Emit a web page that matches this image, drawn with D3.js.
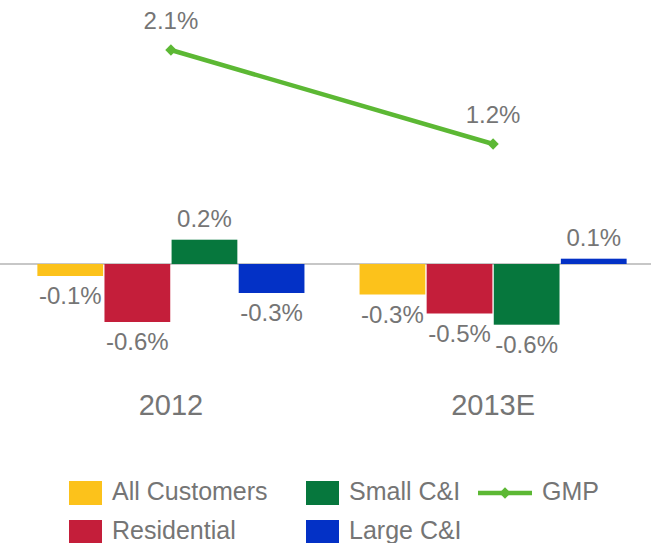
<!DOCTYPE html>
<html>
<head>
<meta charset="utf-8">
<script src="https://cdn.jsdelivr.net/npm/d3@7"></script>
<style>
  body { margin: 0; background: #fff; }
  text { font-family: "Liberation Sans", Arial, sans-serif; fill: #757575; }
</style>
</head>
<body>
<svg id="chart" width="651" height="543"></svg>
<script>
// values (percent)
let years = ["2012", "2013E"]
let seriesNames = ["All Customers", "Residential", "Small C&I", "Large C&I"]
let allCustomers = [-0.12, -0.305]
let residential = [-0.58, -0.495]
let smallCI = [0.243, -0.607]
let largeCI = [-0.29, 0.053]
let gmp = [2.14, 1.2]
let barColors = ["#fcc21b", "#c41e3a", "#06773d", "#0331c6"]
let lineColor = "#5cb834"

let width = 651, height = 543
let svg = d3.select("#chart")

let seriesValues = [allCustomers, residential, smallCI, largeCI]
let rows = years.map(function (yr, i) {
  return seriesNames.map(function (s, j) { return { year: yr, series: s, value: seriesValues[j][i] } })
})

// plain hyphen minus, like the original
let fmt = function (v) { return (+v).toFixed(1) + "%" }

let x0 = d3.scaleBand()
  .domain(years)
  .range([0, 664])
  .paddingInner(0.171)
  .paddingOuter(0.116)

let x1 = d3.scaleBand()
  .domain(seriesNames)
  .range([0, x0.bandwidth()])
  .paddingInner(0.02)

let y = d3.scaleLinear()
  .domain([-0.7, 2.3])
  .range([334, 34])

let color = d3.scaleOrdinal().domain(seriesNames).range(barColors)

// zero line
svg.append("line")
  .attr("x1", 0)
  .attr("x2", width)
  .attr("y1", y(0))
  .attr("y2", y(0))
  .style("stroke", "#b5b5b5")
  .style("stroke-width", 1.5)

// bars
let groups = svg.append("g")
  .selectAll("g")
  .data(rows)
  .enter()
  .append("g")
    .attr("transform", function (d) { return `translate(${x0(d[0].year)},0)` })

groups.selectAll("rect")
  .data(function (d) { return d })
  .enter()
  .append("rect")
    .attr("x", function (d) { return x1(d.series) })
    .attr("width", x1.bandwidth())
    .attr("y", function (d) { return y(Math.max(0, d.value)) })
    .attr("height", function (d) { return Math.abs(y(d.value) - y(0)) })
    .style("fill", function (d) { return color(d.series) })

groups.selectAll("text")
  .data(function (d) { return d })
  .enter()
  .append("text")
    .attr("text-anchor", "middle")
    .attr("x", function (d) { return x1(d.series) + x1.bandwidth() / 2 })
    .attr("y", function (d) { return d.value >= 0 ? y(d.value) - 13 : y(d.value) + 28 })
    .style("font-size", "24px")
    .text(function (d) { return fmt(d.value) })

// GMP line
let cx = function (i) { return x0(years[i]) + x0.bandwidth() / 2 }
let line = d3.line()
  .x(function (d, i) { return cx(i) })
  .y(function (d) { return y(d) })

svg.append("path")
  .datum(gmp)
  .attr("d", line)
  .style("fill", "none")
  .style("stroke", lineColor)
  .style("stroke-width", 4.5)

let diamond = d3.symbol().type(d3.symbolSquare).size(64)

svg.append("g")
  .selectAll("path")
  .data(gmp)
  .enter()
  .append("path")
    .attr("d", diamond)
    .attr("transform", function (d, i) { return `translate(${cx(i)},${y(d)}) rotate(45)` })
    .style("fill", lineColor)

svg.append("g")
  .selectAll("text")
  .data(gmp)
  .enter()
  .append("text")
    .attr("text-anchor", "middle")
    .attr("x", function (d, i) { return cx(i) })
    .attr("y", function (d) { return y(d) - 21 })
    .style("font-size", "24px")
    .text(function (d) { return fmt(d) })

// category labels
svg.append("g")
  .selectAll("text")
  .data(years)
  .enter()
  .append("text")
    .attr("text-anchor", "middle")
    .attr("x", function (d) { return x0(d) + x0.bandwidth() / 2 })
    .attr("y", 415)
    .style("font-size", "29px")
    .text(function (d) { return d })

// legend
let legendPos = [[69, 481], [69, 520], [306, 481], [306, 520]]
let legend = svg.append("g")
  .selectAll("g")
  .data(seriesNames)
  .enter()
  .append("g")
    .attr("transform", function (d, i) { return `translate(${legendPos[i][0]},${legendPos[i][1]})` })

legend.append("rect")
  .attr("width", 33)
  .attr("height", 24)
  .style("fill", function (d) { return color(d) })

legend.append("text")
  .attr("x", 43)
  .attr("y", 19)
  .style("font-size", "25px")
  .text(function (d) { return d })

let gmpLegend = svg.append("g").attr("transform", "translate(478,493)")
gmpLegend.append("line")
  .attr("x1", 0)
  .attr("x2", 54)
  .style("stroke", lineColor)
  .style("stroke-width", 4.5)
gmpLegend.append("path")
  .attr("d", diamond)
  .attr("transform", "translate(27,0) rotate(45)")
  .style("fill", lineColor)
gmpLegend.append("text")
  .attr("x", 64)
  .attr("y", 7)
  .style("font-size", "25px")
  .text("GMP")
</script>
</body>
</html>
